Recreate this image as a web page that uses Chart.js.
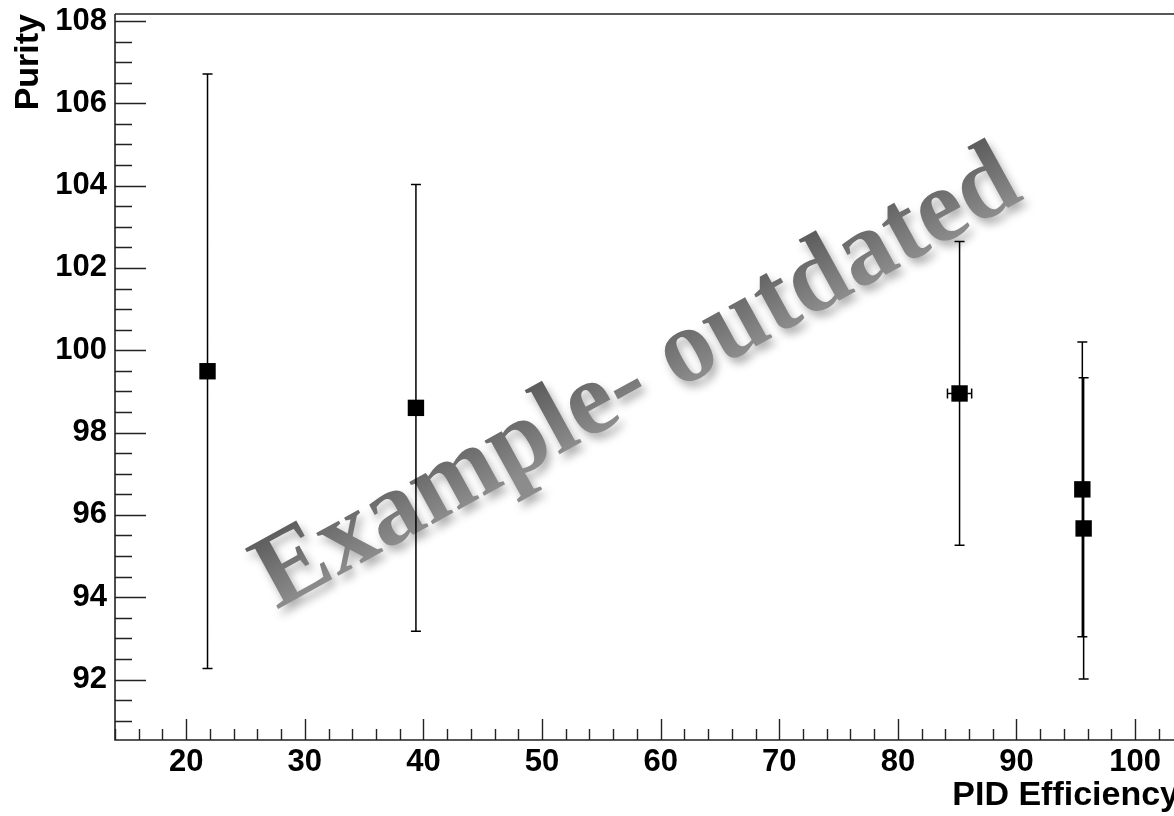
<!DOCTYPE html>
<html><head><meta charset="utf-8">
<script src="https://cdn.jsdelivr.net/npm/chart.js@4/dist/chart.umd.min.js"></script>
<style>
html,body{margin:0;padding:0;overflow:hidden;background:#fff}
#wrap{width:1180px;height:816px;position:relative;overflow:hidden}
canvas{display:block}
</style>
</head><body>
<div id="wrap"><canvas id="c" width="1180" height="816" style="width:1180px;height:816px"></canvas></div>
<script>
// ---- data ----
const efficiency    = [21.8, 39.37, 85.2, 95.55, 95.66];
const purity        = [99.49, 98.60, 98.95, 96.62, 95.67];
const purityErr     = [7.22, 5.43, 3.69, 3.58, 3.66];
const efficiencyErr = [0, 0, 1.02, 0, 0];
const xTickLabels = ['20','30','40','50','60','70','80','90','100'];
const yTickLabels = ['92','94','96','98','100','102','104','106','108'];
const xTitle = 'PID Efficiency';
const yTitle = 'Purity';
const watermarkText = 'Example- outdated';

const SANS = '"Liberation Sans", Arial, Helvetica, sans-serif';
const SERIF = '"Liberation Serif", "Times New Roman", serif';

function isMult(v, step){ const r = v/step; return Math.abs(r - Math.round(r)) < 1e-6; }

const watermark = {
  id: 'watermark',
  beforeDatasetsDraw(chart){
    const ctx = chart.ctx;
    ctx.save();
    ctx.translate(651, 404);
    ctx.rotate(-28.8*Math.PI/180);
    ctx.font = 'bold 105px ' + SERIF;
    ctx.textAlign = 'center';
    ctx.textBaseline = 'alphabetic';
    const g = ctx.createLinearGradient(0, -70, 0, 0);
    g.addColorStop(0, '#5e5e5e');
    g.addColorStop(1, '#8c8c8c');
    ctx.fillStyle = g;
    ctx.shadowColor = 'rgba(0,0,0,0.30)';
    ctx.shadowBlur = 8;
    ctx.shadowOffsetX = 4;
    ctx.shadowOffsetY = 6;
    ctx.fillText(watermarkText, 0, 0);
    ctx.restore();
  }
};

const frameTicks = {
  id: 'frameTicks',
  beforeDatasetsDraw(chart){
    const {ctx, chartArea: a, scales: {x, y}} = chart;
    ctx.save();
    ctx.strokeStyle = '#222';
    ctx.lineWidth = 1.4;
    ctx.beginPath();
    x.ticks.forEach(t => {
      if (!isMult(t.value, 2)) return;
      const px = Math.round(x.getPixelForValue(t.value)) + 0.5;
      const len = isMult(t.value, 10) ? 21 : 11;
      ctx.moveTo(px, a.bottom); ctx.lineTo(px, a.bottom - len);
    });
    y.ticks.forEach(t => {
      if (!isMult(t.value, 0.5)) return;
      const py = Math.round(y.getPixelForValue(t.value)) + 0.5;
      const len = isMult(t.value, 2) ? 31 : 17;
      ctx.moveTo(a.left, py); ctx.lineTo(a.left + len, py);
    });
    ctx.stroke();
    ctx.lineWidth = 1.6;
    ctx.beginPath();
    ctx.moveTo(a.left, a.top); ctx.lineTo(a.right, a.top);
    ctx.moveTo(a.left, a.top); ctx.lineTo(a.left, a.bottom);
    ctx.lineTo(a.right, a.bottom);
    ctx.stroke();
    ctx.restore();
  }
};

const errorBars = {
  id: 'errorBars',
  beforeDatasetsDraw(chart){
    const {ctx, scales: {x, y}} = chart;
    ctx.save();
    ctx.strokeStyle = '#000';
    ctx.lineWidth = 1.5;
    ctx.beginPath();
    for (let i = 0; i < efficiency.length; i++){
      const px = x.getPixelForValue(efficiency[i]);
      const py = y.getPixelForValue(purity[i]);
      if (purityErr[i] > 0){
        const y1 = y.getPixelForValue(purity[i] + purityErr[i]);
        const y2 = y.getPixelForValue(purity[i] - purityErr[i]);
        ctx.moveTo(px, y1); ctx.lineTo(px, y2);
        ctx.moveTo(px - 5, y1); ctx.lineTo(px + 5, y1);
        ctx.moveTo(px - 5, y2); ctx.lineTo(px + 5, y2);
      }
      if (efficiencyErr[i] > 0){
        const x1 = x.getPixelForValue(efficiency[i] - efficiencyErr[i]);
        const x2 = x.getPixelForValue(efficiency[i] + efficiencyErr[i]);
        ctx.moveTo(x1, py); ctx.lineTo(x2, py);
        ctx.moveTo(x1, py - 5); ctx.lineTo(x1, py + 5);
        ctx.moveTo(x2, py - 5); ctx.lineTo(x2, py + 5);
      }
    }
    ctx.stroke();
    ctx.restore();
  }
};

new Chart(document.getElementById('c'), {
  type: 'scatter',
  data: {
    datasets: [{
      data: efficiency.map((v, i) => ({x: v, y: purity[i]})),
      pointStyle: 'rect',
      pointRadius: 11.6,
      pointHoverRadius: 11.6,
      backgroundColor: '#000',
      borderColor: '#000',
      borderWidth: 0,
      showLine: false
    }]
  },
  options: {
    responsive: false,
    maintainAspectRatio: false,
    devicePixelRatio: 1,
    animation: false,
    events: [],
    layout: {autoPadding: false, padding: {top: 14, left: 0, right: 1, bottom: 0}},
    plugins: {legend: {display: false}, tooltip: {enabled: false}},
    scales: {
      x: {
        type: 'linear', position: 'bottom', min: 14, max: 103.7,
        grid: {display: false, drawTicks: false, tickLength: 0}, border: {display: false},
        ticks: {
          stepSize: 2, autoSkip: false, includeBounds: false, maxRotation: 0, minRotation: 0,
          padding: 4, color: '#000',
          font: {family: SANS, size: 31, weight: 'bold'},
          callback: v => { const s = String(Math.round(v)); return (isMult(v, 10) && xTickLabels.includes(s)) ? s : ''; }
        },
        title: {display: true, text: xTitle, align: 'end', color: '#000',
          font: {family: SANS, size: 34, weight: 'bold'}, padding: {top: 0, bottom: 0}},
        afterFit(s){ s.height = 76; s.paddingLeft = 0; s.paddingRight = 0; }
      },
      y: {
        type: 'linear', position: 'left', min: 90.53, max: 108.17,
        grid: {display: false, drawTicks: false, tickLength: 0}, border: {display: false},
        ticks: {
          stepSize: 0.5, autoSkip: false, includeBounds: false,
          padding: 8, color: '#000',
          font: {family: SANS, size: 31, weight: 'bold'},
          callback: v => { const s = String(Math.round(v)); return (isMult(v, 2) && yTickLabels.includes(s)) ? s : ''; }
        },
        title: {display: true, text: yTitle, align: 'end', color: '#000',
          font: {family: SANS, size: 34, weight: 'bold'}, padding: {top: 8, bottom: 0}},
        afterFit(s){ s.width = 115; s.paddingTop = 0; s.paddingBottom = 0; }
      }
    }
  },
  plugins: [watermark, frameTicks, errorBars]
});
</script>
</body></html>
